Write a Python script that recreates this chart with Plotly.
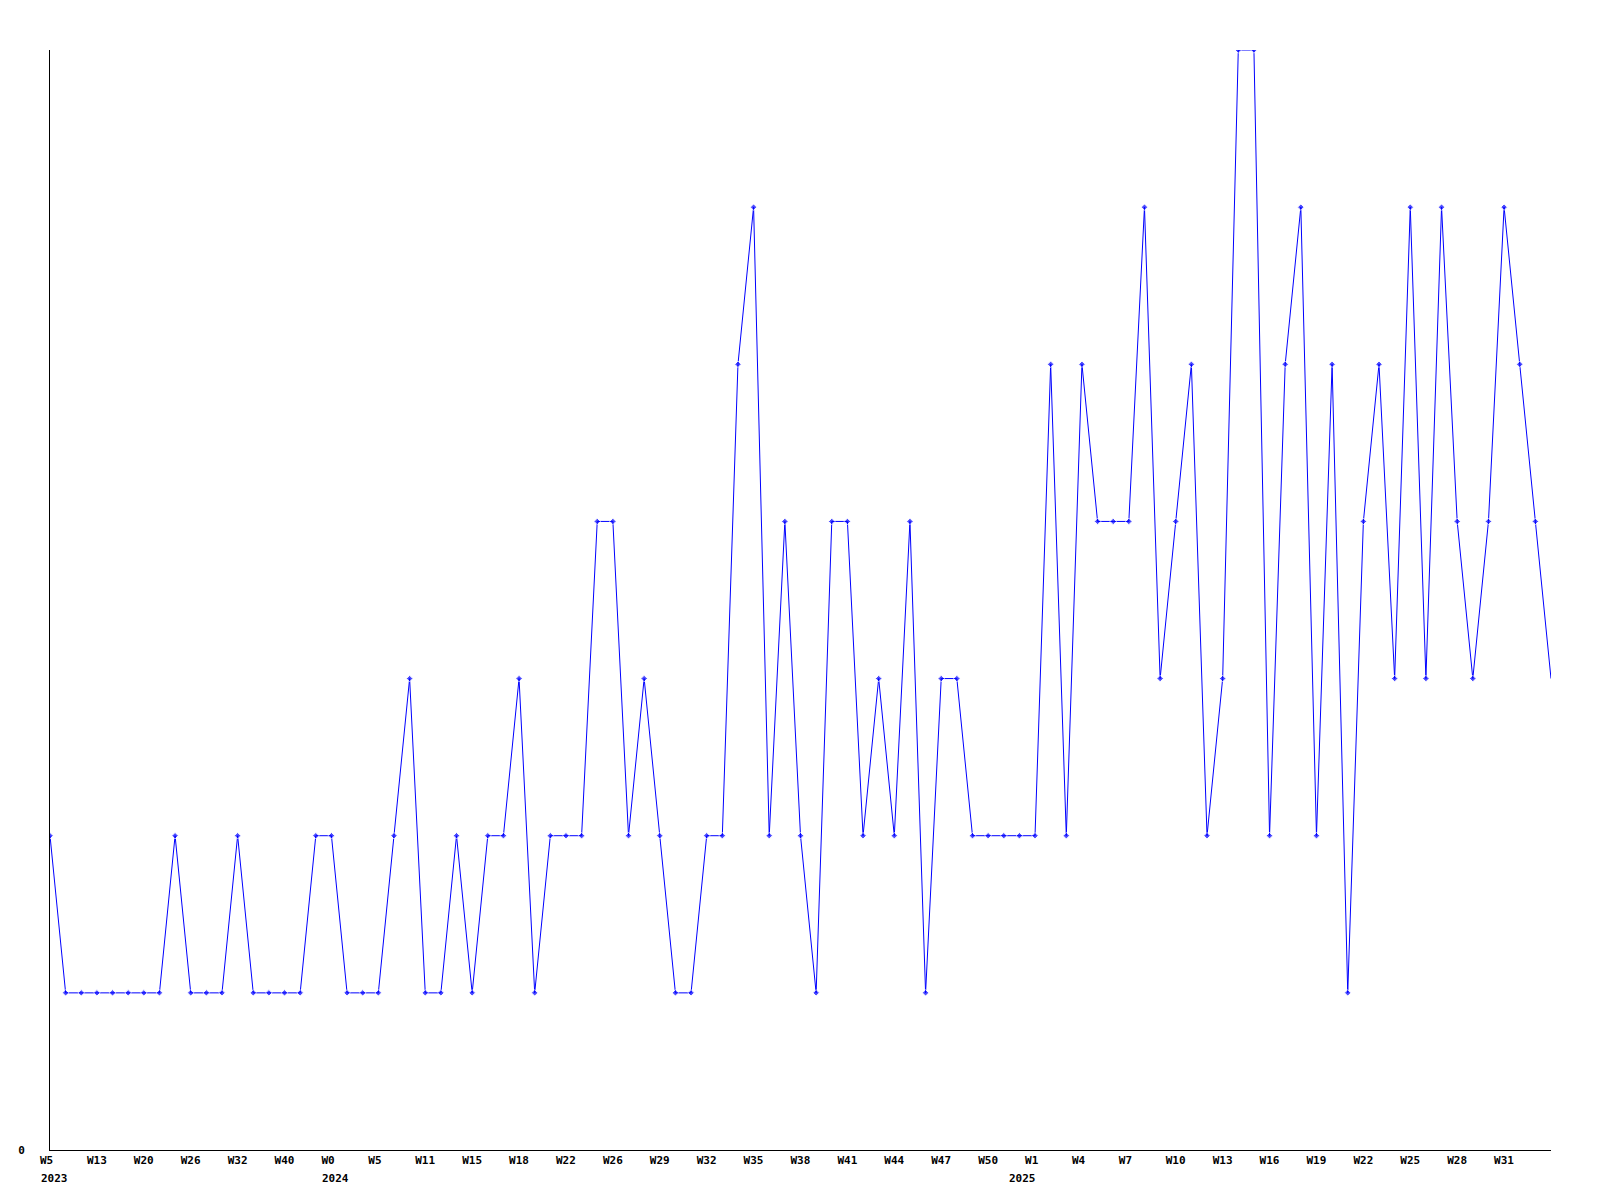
import plotly.graph_objects as go

values = [2, 1, 1, 1, 1, 1, 1, 1, 2, 1, 1, 1, 2, 1, 1, 1, 1, 2, 2, 1,
          1, 1, 2, 3, 1, 1, 2, 1, 2, 2, 3, 1, 2, 2, 2, 4, 4, 2, 3, 2,
          1, 1, 2, 2, 5, 6, 2, 4, 2, 1, 4, 4, 2, 3, 2, 4, 1, 3, 3, 2,
          2, 2, 2, 2, 5, 2, 5, 4, 4, 4, 6, 3, 4, 5, 2, 3, 7, 7, 2, 5,
          6, 2, 5, 1, 4, 5, 3, 6, 3, 6, 4, 3, 4, 6, 5, 4, 3]

week_labels = ["W5", "W13", "W20", "W26", "W32", "W40", "W0", "W5", "W11", "W15",
               "W18", "W22", "W26", "W29", "W32", "W35", "W38", "W41", "W44", "W47",
               "W50", "W1", "W4", "W7", "W10", "W13", "W16", "W19", "W22", "W25",
               "W28", "W31"]
label_step = 3

year_labels = ["2023", "2024", "2025"]
year_label_index = [0, 18, 63]
year_shift = [-10, -10, -27]

n = len(values)
xs = list(range(n))
tickvals = list(range(0, label_step * len(week_labels), label_step))

font = dict(family="DejaVu Sans Mono", size=11, color="black", weight="bold")

fig = go.Figure()
fig.add_trace(go.Scatter(
    x=xs, y=values, mode="lines+markers",
    line=dict(color="#0000ff", width=1),
    marker=dict(symbol="diamond", size=[5] * (n - 1) + [0], color="#0000ff"),
    hoverinfo="skip", showlegend=False,
))

for txt, idx, sh in zip(year_labels, year_label_index, year_shift):
    fig.add_annotation(x=idx, y=0, xref="x", yref="paper", text=txt,
                       showarrow=False, xanchor="left", yanchor="top",
                       xshift=sh, yshift=-21, font=font, borderpad=0)

fig.update_layout(
    width=1592, height=1192,
    margin=dict(l=42, r=49, t=42, b=50, autoexpand=False),
    plot_bgcolor="white", paper_bgcolor="white",
    xaxis=dict(range=[0, n - 1], showgrid=False, zeroline=False,
               showline=True, linecolor="black", linewidth=1,
               tickmode="array", tickvals=tickvals, ticktext=week_labels,
               ticks="outside", ticklen=5, tickcolor="rgba(0,0,0,0)",
               ticklabelposition="outside right", ticklabelshift=-11,
               tickfont=font, automargin=False),
    yaxis=dict(range=[0, 7], showgrid=False, zeroline=False,
               showline=True, linecolor="black", linewidth=1,
               tickmode="array", tickvals=[0], ticktext=["0"],
               ticks="outside", ticklen=22, tickcolor="rgba(0,0,0,0)",
               tickfont=font, automargin=False),
)

fig.write_html("out.html")
